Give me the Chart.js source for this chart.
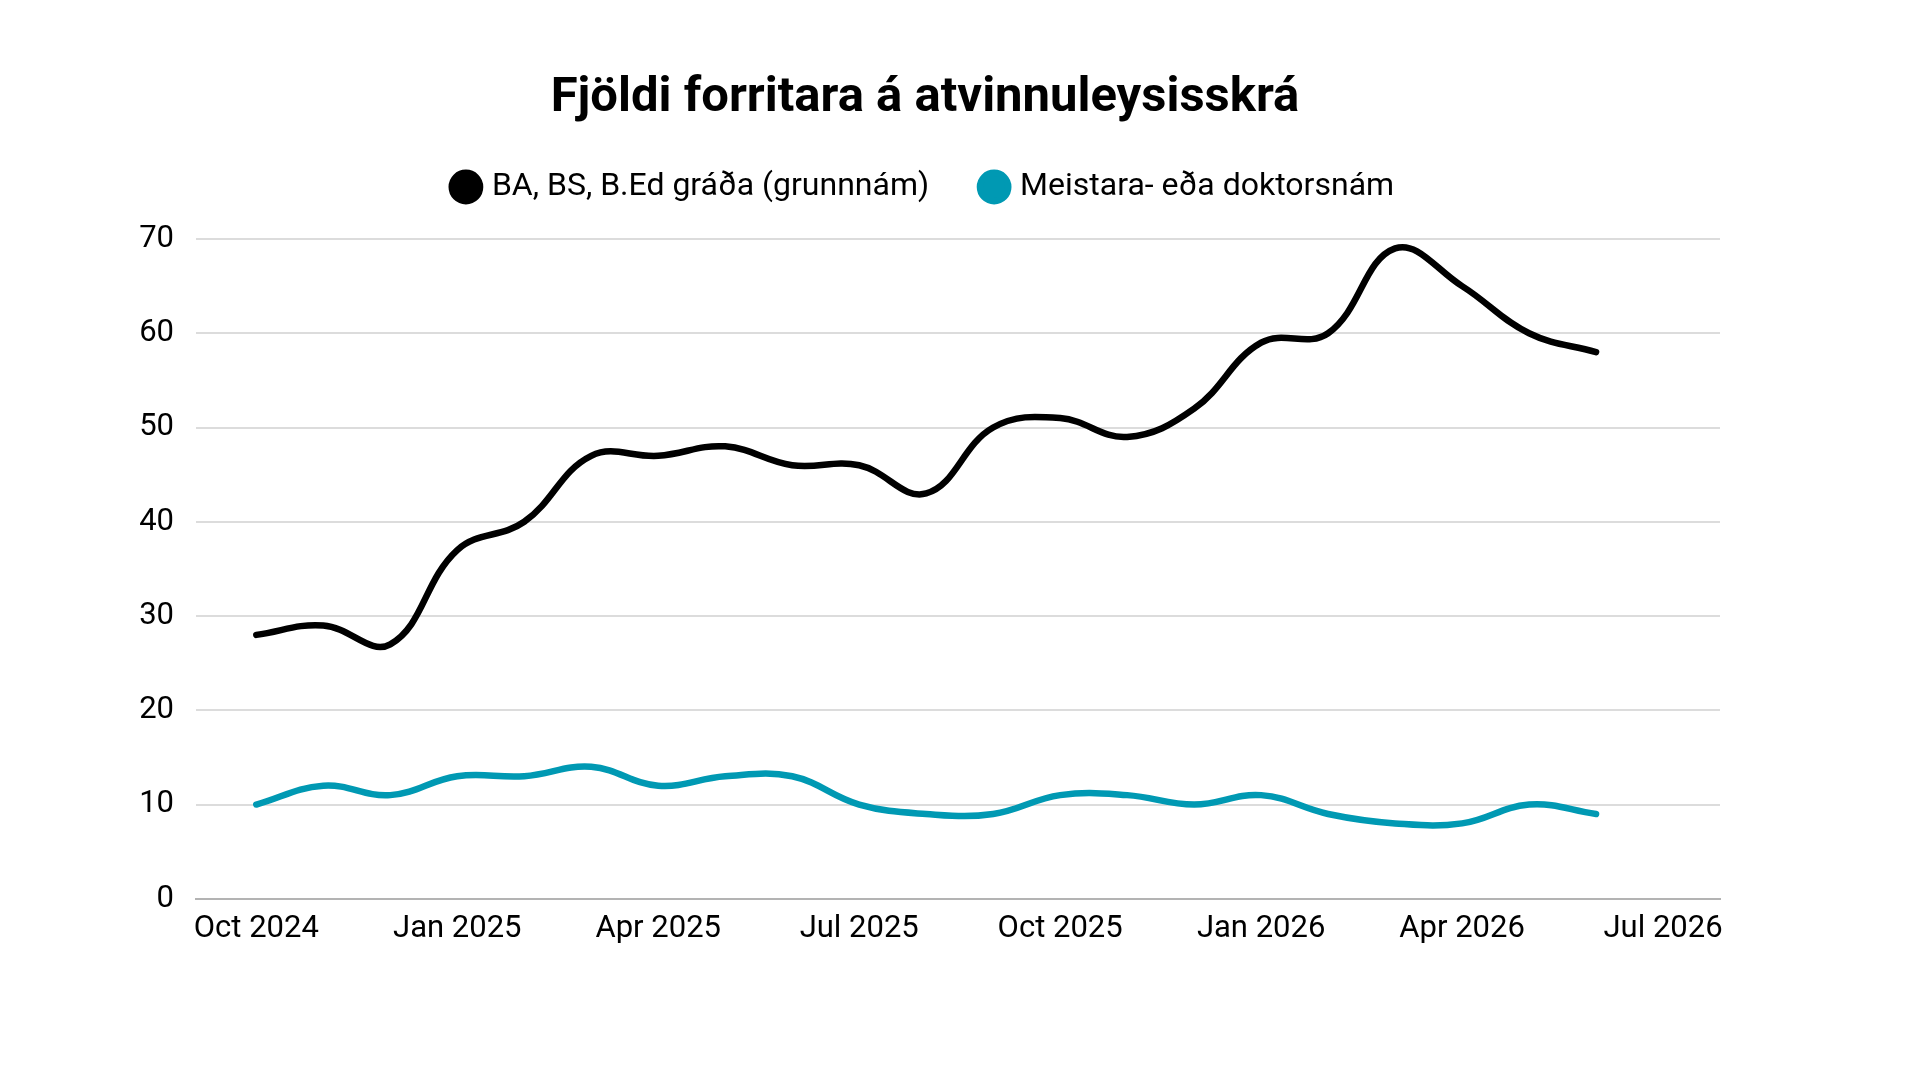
<!DOCTYPE html>
<html lang="is">
<head>
    <meta charset="UTF-8">
    <title>Fjöldi forritara á atvinnuleysisskrá</title>
    <script src="https://cdn.jsdelivr.net/npm/chart.js"></script>
    <style>
        body {
            margin: 0;
            padding: 0;
            background: #ffffff;
        }
        #chart {
            display: block;
        }
    </style>
</head>
<body>
    <canvas id="chart" width="1920" height="1080"></canvas>
    <script>
        // monthly values, Oct 2024 - Jun 2026
        var months = ['Oct 2024', 'Nov 2024', 'Dec 2024', 'Jan 2025', 'Feb 2025', 'Mar 2025', 'Apr 2025',
            'May 2025', 'Jun 2025', 'Jul 2025', 'Aug 2025', 'Sep 2025', 'Oct 2025', 'Nov 2025', 'Dec 2025',
            'Jan 2026', 'Feb 2026', 'Mar 2026', 'Apr 2026', 'May 2026', 'Jun 2026'];
        var grunnnam = [28, 29, 27, 37, 40, 47, 47, 48, 46, 46, 43, 50, 51, 49, 52, 59, 60, 69, 65, 60, 58];
        var meistara = [10, 12, 11, 13, 13, 14, 12, 13, 13, 10, 9, 9, 11, 11, 10, 11, 9, 8, 8, 10, 9];
        var xTickLabels = ['Oct 2024', 'Jan 2025', 'Apr 2025', 'Jul 2025', 'Oct 2025', 'Jan 2026', 'Apr 2026', 'Jul 2026'];
        var yTicks = [0, 10, 20, 30, 40, 50, 60, 70];

        var FONT = "Roboto, 'Open Sans', sans-serif";

        function toPoints(values) {
            return values.map(function (v, i) { return { x: i, y: v }; });
        }

        // extra room between the legend and the plot
        var legendGap = {
            id: 'legendGap',
            beforeInit: function (chart) {
                var fit = chart.legend.fit;
                chart.legend.fit = function () {
                    fit.bind(chart.legend)();
                    this.height += 26;
                };
            }
        };

        var ctx = document.getElementById('chart').getContext('2d');
        var chart = new Chart(ctx, {
            type: 'line',
            data: {
                datasets: [{
                    label: 'BA, BS, B.Ed gráða (grunnnám)',
                    data: toPoints(grunnnam),
                    borderColor: '#000000',
                    backgroundColor: '#000000',
                    borderWidth: 6.5,
                    tension: 0.4,
                    pointRadius: 0,
                    borderCapStyle: 'round'
                }, {
                    label: 'Meistara- eða doktorsnám',
                    data: toPoints(meistara),
                    borderColor: '#0099b3',
                    backgroundColor: '#0099b3',
                    borderWidth: 6.5,
                    tension: 0.4,
                    pointRadius: 0,
                    borderCapStyle: 'round'
                }]
            },
            plugins: [legendGap],
            options: {
                responsive: false,
                animation: false,
                devicePixelRatio: 1,
                layout: {
                    padding: { left: 130, right: 200, top: 50, bottom: 120 }
                },
                plugins: {
                    title: {
                        display: true,
                        text: 'Fjöldi forritara á atvinnuleysisskrá',
                        color: '#000000',
                        font: { family: FONT, size: 49, weight: 'bold', lineHeight: 1.0 },
                        padding: { top: 24, bottom: -7 }
                    },
                    legend: {
                        display: true,
                        labels: {
                            usePointStyle: true,
                            pointStyle: 'circle',
                            boxWidth: 20,
                            boxHeight: 20,
                            padding: 55,
                            color: '#000000',
                            font: { family: FONT, size: 32 }
                        }
                    },
                    tooltip: { enabled: false }
                },
                scales: {
                    x: {
                        type: 'linear',
                        min: -0.9,
                        max: 21.85,
                        grid: { display: false, drawTicks: false },
                        border: { display: true, color: '#b3b3b3', width: 2 },
                        afterBuildTicks: function (axis) {
                            axis.ticks = xTickLabels.map(function (l, i) { return { value: i * 3 }; });
                        },
                        ticks: {
                            color: '#000000',
                            padding: 12,
                            maxRotation: 0,
                            autoSkip: false,
                            font: { family: FONT, size: 31 },
                            callback: function (value) {
                                return xTickLabels[Math.round(value / 3)];
                            }
                        }
                    },
                    y: {
                        min: 0,
                        max: 70,
                        afterBuildTicks: function (axis) {
                            axis.ticks = yTicks.map(function (v) { return { value: v }; });
                        },
                        afterFit: function (axis) {
                            axis.width = 66;
                        },
                        grid: { color: '#dcdcdc', lineWidth: 2, drawTicks: false },
                        border: { display: false },
                        ticks: {
                            color: '#000000',
                            padding: 22,
                            font: { family: FONT, size: 31 }
                        }
                    }
                }
            }
        });
    </script>
</body>
</html>
